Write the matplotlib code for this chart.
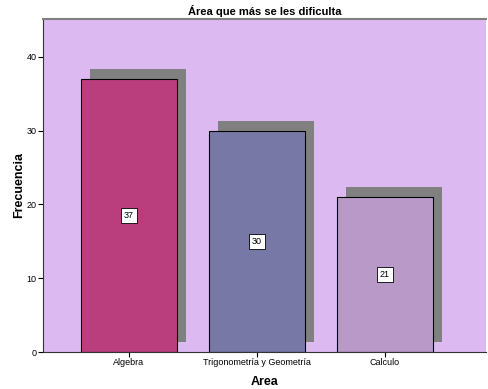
import matplotlib.pyplot as plt
import matplotlib.transforms as mtransforms

plt.rcParams['font.family'] = ['Liberation Sans', 'DejaVu Sans']

# frequency of each area
areas = ["Algebra", "Trigonometría y Geometría", "Calculo"]
counts = [37, 30, 21]
colors = ["#BA3E7E", "#7778A6", "#B899C8"]

fig = plt.figure(figsize=(4.89, 3.89), dpi=100)
ax = fig.add_axes([0.0879, 0.0951, 0.9060, 0.8561])
ax.set_facecolor("#DDB9F1")

x = list(range(len(areas)))
width = 0.75

# drop shadow: same bars shifted right and up by a few pixels
shadow_tr = mtransforms.offset_copy(ax.transData, fig=fig, x=9, y=10, units='dots')
ax.bar(x, counts, width=width, color="#808080", transform=shadow_tr, zorder=1)
bars = ax.bar(x, counts, width=width, color=colors, edgecolor="black", linewidth=0.8, zorder=2)

for xi, c in zip(x, counts):
    ax.text(xi, c / 2, str(c), ha='center', va='center', fontsize=6.5, zorder=3,
            bbox=dict(boxstyle='square,pad=0.3', fc='white', ec='black', lw=0.6))

ax.set_xlim(-0.672, 2.789)
ax.set_ylim(0, 45.15)
ax.set_yticks([0, 10, 20, 30, 40])
ax.set_xticks(x)
ax.set_xticklabels(areas)
ax.tick_params(axis='both', labelsize=6.5, length=3.5, width=0.8, pad=1)

ax.spines['right'].set_visible(False)
ax.spines['top'].set_color("#808080")
ax.spines['top'].set_linewidth(1.5)
ax.spines['left'].set_color("#333333")
ax.spines['bottom'].set_color("#333333")

ax.set_title("Área que más se les dificulta", fontsize=8, fontweight='bold', pad=3)
ax.set_xlabel("Area", fontsize=9, fontweight='bold', labelpad=6)
ax.set_ylabel("Frecuencia", fontsize=9, fontweight='bold', labelpad=1)

fig.savefig("out.png", dpi=100)
